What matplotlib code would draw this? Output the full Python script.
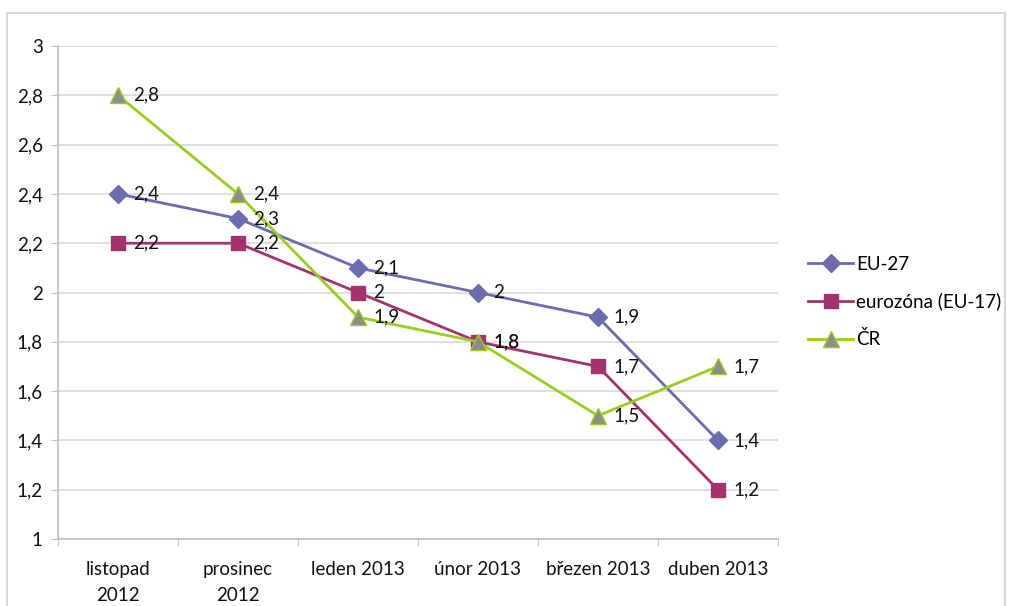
import numpy as np
import matplotlib
matplotlib.use("Agg")
from matplotlib import pyplot as plt
from matplotlib.patches import Rectangle

categories = ["listopad\n2012", "prosinec\n2012", "leden 2013", "únor 2013", "březen 2013", "duben 2013"]
eu27 = [2.4, 2.3, 2.1, 2.0, 1.9, 1.4]
eurozona = [2.2, 2.2, 2.0, 1.8, 1.7, 1.2]
cr = [2.8, 2.4, 1.9, 1.8, 1.5, 1.7]
labels = ["EU-27", "eurozóna (EU-17)", "ČR"]
y_ticks = [1, 1.2, 1.4, 1.6, 1.8, 2, 2.2, 2.4, 2.6, 2.8, 3]


def fmt(v):
    s = f"{v:g}"
    return s.replace(".", ",")


plt.rcParams["font.family"] = ["Lato", "DejaVu Sans"]
FS = 13.5

fig = plt.figure(figsize=(10.09, 6.06), dpi=100)
fig.patches.append(Rectangle((7 / 1009, -0.01), 998 / 1009, 1 - 13 / 606 + 0.01,
                             transform=fig.transFigure, fill=False,
                             edgecolor="#d0d0d0", linewidth=1.2))

ax = fig.add_axes([58 / 1009, 1 - 539 / 606, 720 / 1009, 493 / 606])
x = np.arange(len(categories))

series = [
    (eu27, "#6b6bae", "#6b6bae", "D", 9),
    (eurozona, "#a2336d", "#a2336d", "s", 10),
    (cr, "#9acd1e", "#8c8c8c", "^", 11),
]

for (vals, col, fill, mk, ms), lab in zip(series, labels):
    ax.plot(x, vals, color=col, linewidth=2, marker=mk, markersize=ms,
            markerfacecolor=fill, markeredgecolor=col,
            markeredgewidth=1, label=lab, zorder=3)
    for xi, v in zip(x, vals):
        ax.annotate(fmt(v), (xi, v), xytext=(11, 0), textcoords="offset points",
                    va="center", ha="left", fontsize=FS, color="#111111", zorder=4)

ax.set_xlim(-0.5, len(categories) - 0.5)
ax.set_ylim(1, 3)
ax.set_yticks(y_ticks)
ax.set_yticklabels([fmt(v) for v in y_ticks])
ax.set_xticks(x)
ax.set_xticklabels(categories, fontsize=FS, color="#111111", linespacing=1.6)
ax.set_xticks(np.arange(-0.5, len(categories)), minor=True)
ax.tick_params(axis="x", which="major", length=0, pad=16)
ax.tick_params(axis="x", which="minor", length=5, color="#bfbfbf")
ax.tick_params(axis="y", length=5, color="#bfbfbf", labelsize=FS, labelcolor="#111111", pad=6)
ax.yaxis.grid(True, color="#d9d9d9", linewidth=1.2)
ax.set_axisbelow(True)
for s in ["top", "right"]:
    ax.spines[s].set_visible(False)
for s in ["left", "bottom"]:
    ax.spines[s].set_color("#bfbfbf")
    ax.spines[s].set_linewidth(1.2)

fig.legend(loc="center left", bbox_to_anchor=(808 / 1009, 1 - 302 / 606),
           bbox_transform=fig.transFigure, borderaxespad=0, borderpad=0,
           frameon=False, fontsize=FS, handlelength=2.4, labelspacing=1.05,
           handletextpad=0.15)

fig.savefig("out.png", dpi=100)
